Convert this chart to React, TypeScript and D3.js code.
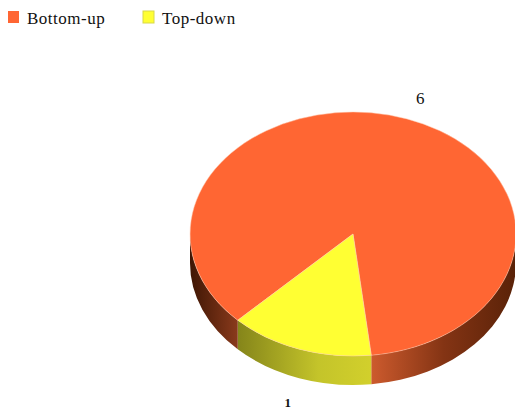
import React from 'react';
import * as d3 from 'd3';

const categories = ['Bottom-up', 'Top-down'];
const values = [6, 1];
const colors = ['#ff6633', '#ffff33'];

const width = 515;
const height = 411;
const cx = 353;
const cy = 234;
const rx = 163;
const ry = 122;
const depth = 29;
const labelRadius = 1.21;
const startAngle = (225 * Math.PI) / 180;

const pie = d3.pie<number>().sort(null).startAngle(startAngle).endAngle(startAngle + 2 * Math.PI);
const slices = pie(values);

// unit circle arc, squashed into an ellipse by the group transform
const arc = d3.arc<d3.PieArcDatum<number>>().innerRadius(0).outerRadius(1);

const px = (a: number) => cx + rx * Math.sin(a);
const py = (a: number) => cy - ry * Math.cos(a);

const sidePath = (a0: number, a1: number) =>
  `M${px(a0)},${py(a0)}A${rx},${ry} 0 0 1 ${px(a1)},${py(a1)}` +
  `L${px(a1)},${py(a1) + depth}A${rx},${ry} 0 0 0 ${px(a0)},${py(a0) + depth}Z`;

const TAU = 2 * Math.PI;
const topDown = slices[1];

const App = () => {
  const legendX = d3.scaleOrdinal<string, number>().domain(categories).range([8, 143]);

  return (
    <svg
      width={width}
      height={height}
      style={{ position: 'absolute', left: 0, top: 0, background: '#fff' }}
      fontFamily="'Liberation Serif', serif"
    >
      <defs>
        <linearGradient id="sideLeft" gradientUnits="userSpaceOnUse" x1={190} x2={238} y1={0} y2={0}>
          <stop offset="0" stopColor="#3f1604" />
          <stop offset="1" stopColor="#8a3a1c" />
        </linearGradient>
        <linearGradient id="sideRight" gradientUnits="userSpaceOnUse" x1={372} x2={515} y1={0} y2={0}>
          <stop offset="0" stopColor="#cc5a2d" />
          <stop offset="0.5" stopColor="#843414" />
          <stop offset="1" stopColor="#5a2208" />
        </linearGradient>
        <linearGradient id="sideYellow" gradientUnits="userSpaceOnUse" x1={238} x2={372} y1={0} y2={0}>
          <stop offset="0" stopColor="#85851a" />
          <stop offset="0.6" stopColor="#c4c42a" />
          <stop offset="1" stopColor="#d2d02c" />
        </linearGradient>
      </defs>

      {/* legend */}
      {categories.map((c, i) => (
        <g key={c} transform={`translate(${legendX(c)},11)`}>
          <rect width={11} height={12} fill={colors[i]} stroke={i === 1 ? '#d8d84a' : 'none'} />
          <text x={19} y={13} fontSize={17} fill="#111" letterSpacing={0.5}>
            {c}
          </text>
        </g>
      ))}

      {/* pie sides, only the part of the rim that faces the viewer */}
      <path d={sidePath(Math.PI / 2, topDown.startAngle)} fill="url(#sideRight)" />
      <path d={sidePath(topDown.startAngle, topDown.endAngle)} fill="url(#sideYellow)" />
      <path d={sidePath(topDown.endAngle, (3 * Math.PI) / 2)} fill="url(#sideLeft)" />

      {/* top face */}
      <g transform={`translate(${cx},${cy}) scale(${rx},${ry})`}>
        {slices.map((s, i) => (
          <path
            key={categories[i]}
            d={arc(s) ?? ''}
            fill={colors[i]}
            stroke="#ffc9ae"
            strokeWidth={0.5}
            vectorEffect="non-scaling-stroke"
          />
        ))}
      </g>

      {/* value labels */}
      {slices.map((s, i) => {
        const mid = ((s.startAngle + s.endAngle) / 2) % TAU;
        const below = Math.cos(mid) < 0;
        return (
          <text
            key={categories[i]}
            x={cx + rx * labelRadius * Math.sin(mid) + (below ? 0 : 2)}
            y={cy - ry * labelRadius * Math.cos(mid) + (below ? depth + 2 : 5)}
            textAnchor="middle"
            dominantBaseline="middle"
            fontSize={below ? 13 : 17}
            fontWeight={below ? 'bold' : 'normal'}
            fill="#111"
          >
            {s.value}
          </text>
        );
      })}
    </svg>
  );
};

export default App;
